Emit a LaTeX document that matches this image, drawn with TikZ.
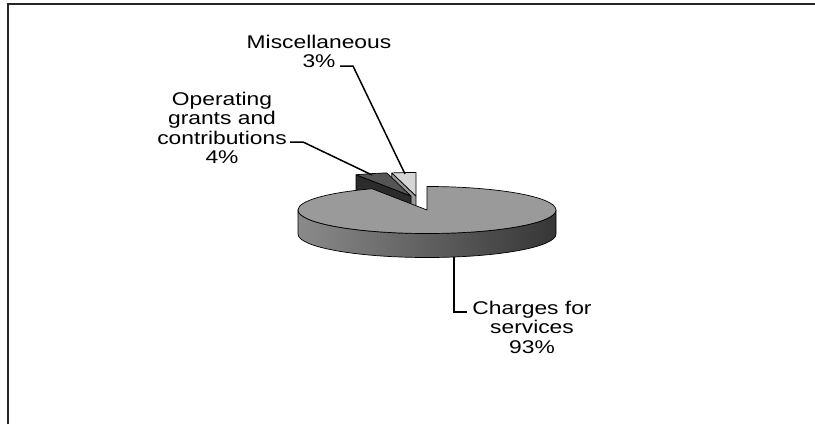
\documentclass[tikz,border=0pt]{standalone}
\usepackage{fontspec}
\setmainfont[FakeStretch=1.24]{Liberation Sans}
\usetikzlibrary{calc,positioning}

\definecolor{pietop}{HTML}{9A9A9A}
\definecolor{sidelight}{HTML}{8A8A8A}
\definecolor{sidemid}{HTML}{A0A0A0}
\definecolor{sidedark}{HTML}{363636}
\definecolor{grantstop}{HTML}{555555}
\definecolor{grantsside}{HTML}{2B2B2B}
\definecolor{misctop}{HTML}{D6D6D6}
\definecolor{miscside}{HTML}{9A9A9A}

\begin{document}
\begin{tikzpicture}[x=1pt,y=1pt,
  slice/.style={draw=black, line width=.7pt, line join=round},
  leader/.style={draw=black, line width=1.5pt},
  lab/.style={align=center, inner sep=0pt, anchor=north,
    font=\fontsize{18.4pt}{19.3pt}\selectfont}]
\useasboundingbox (0,0) rectangle (815,-424);

% frame
\draw[line width=1.2pt, black!85] (8,-424) -- (8,-4) -- (815,-4);

% exploded slices (behind)
\coordinate (apexMisc) at (416,-196);
\coordinate (apexGrants) at (411,-196);

% ... misc 3%
\fill[slice, fill=miscside] (apexMisc) -- ++(100.8:129pt and 23.5pt) -- ++(0,-24) -- ($(apexMisc)+(0,-24)$) -- cycle;
\fill[slice, fill=misctop] (apexMisc) -- ++(90:129pt and 23.5pt)
  arc[start angle=90, end angle=100.8, x radius=129pt, y radius=23.5pt] -- cycle;

% ... grants 4%
\fill[slice, fill=grantsside] (apexGrants) -- ++(115.2:129pt and 23.5pt) -- ++(0,-24) -- ($(apexGrants)+(0,-24)$) -- cycle;
\fill[slice, fill=grantstop] (apexGrants) -- ++(100.8:129pt and 23.5pt)
  arc[start angle=100.8, end angle=115.2, x radius=129pt, y radius=23.5pt] -- cycle;

% main slice 93%
\coordinate (pieC) at (427,-210);
\path[slice, left color=sidelight, middle color=sidemid, right color=sidedark]
  (298,-210) arc[start angle=180, end angle=360, x radius=129pt, y radius=23.5pt]
  -- ++(0,-24) arc[start angle=360, end angle=180, x radius=129pt, y radius=23.5pt] -- cycle;
\fill[slice, fill=pietop] (pieC) -- ++(90:129pt and 23.5pt)
  arc[start angle=90, end angle=-244.8, x radius=129pt, y radius=23.5pt] -- cycle;

% labels
\node[lab] (labMisc) at (319,-35) {Miscellaneous\\3\%};
\node[lab] (labGrants) at (222,-92) {Operating\\grants and\\contributions\\4\%};
\node[lab] (labCharges) at (532,-301) {Charges for\\services\\93\%};

% leaders
\coordinate (stubMisc) at (340,-66);
\coordinate (tipMisc) at (405,-174);
\coordinate (stubGrants) at (290,-142);
\coordinate (tipGrants) at (372,-175);
\coordinate (tipCharges) at (454,-257);
\coordinate (stubCharges) at (467,-312);

\draw[leader] (stubMisc) -- ++(13,0) -- (tipMisc);
\draw[leader] (stubGrants) -- ++(13,0) -- (tipGrants);
\draw[leader] (tipCharges) |- (stubCharges);

\end{tikzpicture}
\end{document}
